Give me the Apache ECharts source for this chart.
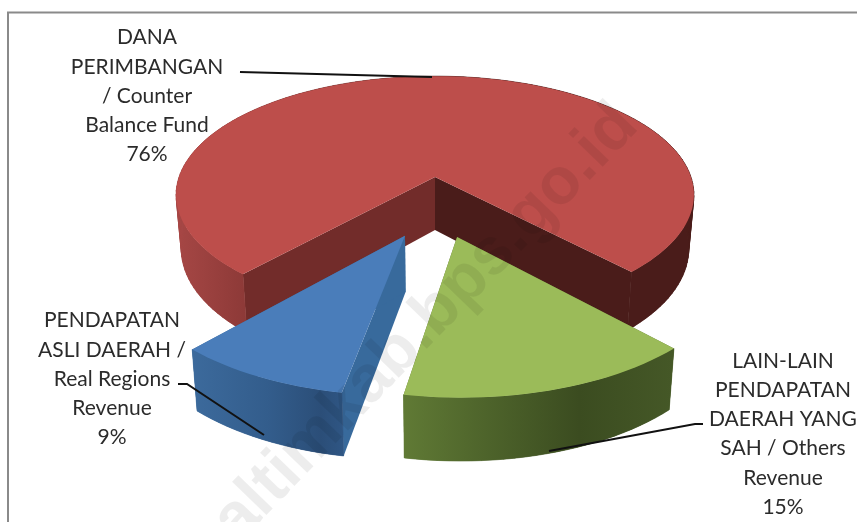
<!DOCTYPE html>
<html>
<head>
<meta charset="utf-8">
<style>
  html, body { margin: 0; padding: 0; background: #fff; }
  #chart { width: 857px; height: 522px; }
</style>
<script src="https://cdn.jsdelivr.net/npm/echarts@6/dist/echarts.min.js"></script>
</head>
<body>
<div id="chart"></div>
<script>
const categories = [
  'DANA\nPERIMBANGAN\n/ Counter\nBalance Fund',
  'LAIN-LAIN\nPENDAPATAN\nDAERAH YANG\nSAH / Others\nRevenue',
  'PENDAPATAN\nASLI DAERAH /\nReal Regions\nRevenue'
]
const shares = [76.4, 14.8, 8.8]
const watermark = 'haltimkab.bps.go.id'

// projection of the pie plane, front of the disc is nearer to the viewer
const CX = 435
const CY = 177
const RX = 256
const RY = 116
const PERSPECTIVE = 0.15
const START_ANGLE = -138.2
const total = shares.reduce((a, b) => a + b, 0)

const sliceStyles = [
  {
    explode: [0, 0],
    top: '#bd4e4b',
    faces: ['#722c2a', '#4a1c1a'],
    outer: [[0, '#a64745'], [0.13, '#8e3a38'], [0.5, '#4a1c1a'], [1, '#4a1c1a']],
    label: [147, 96],
    leader: [[240, 72], [432, 77]]
  },
  {
    explode: [0.08, 0.48],
    top: '#9bbb59',
    faces: ['#5c7532', '#5c7532'],
    outer: [[0, '#607a35'], [0.3, '#4e642b'], [0.65, '#3b4c20'], [1, '#455827']],
    label: [783, 434],
    leader: [[703, 424], [695, 424], [549, 451]]
  },
  {
    explode: [-0.109, 0.47],
    top: '#4a7dba',
    faces: ['#386a9c', '#386a9c'],
    outer: [[0, '#3c6a9c'], [0.5, '#335d8c'], [0.85, '#2b4e78'], [1, '#2f5684']],
    label: [112, 379],
    leader: [[178, 384], [187, 384], [264, 435]]
  }
]

function project(u, v) {
  const s = 1 / (1 - PERSPECTIVE * v)
  return [CX + RX * u * s, CY + RY * v * s]
}

// same point on the underside of the slab
function lower(u, v) {
  const p = project(u, v)
  return [CX + (p[0] - CX) * 0.98, p[1] + 53 + 7 * v]
}

function arcPoints(from, to, off, fn) {
  const pts = []
  const steps = Math.max(2, Math.ceil(Math.abs(to - from) / 2))
  for (let i = 0; i <= steps; i++) {
    const a = (from + (to - from) * i / steps) * Math.PI / 180
    pts.push(fn(Math.sin(a) + off[0], -Math.cos(a) + off[1]))
  }
  return pts
}

function colorAt(stops, t) {
  for (let i = 1; i < stops.length; i++) {
    if (t <= stops[i][0]) {
      const k = (t - stops[i - 1][0]) / (stops[i][0] - stops[i - 1][0])
      return echarts.color.lerp(k, [stops[i - 1][1], stops[i][1]])
    }
  }
  return stops[stops.length - 1][1]
}

function renderSlice(params, api) {
  const idx = params.dataIndex
  const st = sliceStyles[idx]
  let from = START_ANGLE
  for (let i = 0; i < idx; i++) from += shares[i] / total * 360
  const to = from + api.value(0) / total * 360
  const off = st.explode

  const topArc = arcPoints(from, to, off, project)
  const lowArc = arcPoints(from, to, off, lower)
  const tip = project(off[0], off[1])
  const lowTip = lower(off[0], off[1])
  const poly = (points, fill) => ({
    type: 'polygon',
    shape: { points },
    style: { fill, stroke: null }
  })

  const children = [
    poly([tip, topArc[0], lowArc[0], lowTip], st.faces[0]),
    poly([tip, topArc[topArc.length - 1], lowArc[lowArc.length - 1], lowTip], st.faces[1])
  ]

  // quads keep the silhouette tangent to the top face, the gradient wall hides their seams
  const xs = topArc.map((p) => p[0])
  const minX = Math.min.apply(null, xs)
  const maxX = Math.max.apply(null, xs)
  for (let i = 0; i < topArc.length - 1; i++) {
    const t = (topArc[i][0] - minX) / (maxX - minX)
    const fill = colorAt(st.outer, t)
    const quad = poly([topArc[i], topArc[i + 1], lowArc[i + 1], lowArc[i]], fill)
    quad.style.stroke = fill
    quad.style.lineWidth = 0.6
    children.push(quad)
  }
  children.push(poly(
    topArc.concat(lowArc.slice().reverse()),
    new echarts.graphic.LinearGradient(0, 0, 1, 0,
      st.outer.map((s) => ({ offset: s[0], color: s[1] })))
  ))

  children.push(
    poly([tip].concat(topArc), st.top),
    {
      type: 'polyline',
      shape: { points: st.leader },
      style: { stroke: '#111', lineWidth: 2, fill: null }
    },
    {
      type: 'text',
      style: {
        text: categories[idx] + '\n' + Math.round(api.value(0)) + '%',
        x: st.label[0],
        y: st.label[1],
        align: 'center',
        verticalAlign: 'middle',
        fontFamily: 'Lato',
        fontSize: 21,
        lineHeight: 29.2,
        fill: '#2b2b2b'
      }
    }
  )
  return { type: 'group', children }
}

const chart = echarts.init(document.getElementById('chart'))
chart.setOption({
  animation: false,
  backgroundColor: '#fff',
  graphic: [
    {
      type: 'polyline',
      z: 0,
      shape: { points: [[8, 522], [8, 12.5], [857, 12.5]] },
      style: { stroke: '#8a8a8a', lineWidth: 2, fill: null }
    },
    {
      type: 'text',
      z: 10,
      x: 412,
      y: 338,
      rotation: 46 * Math.PI / 180,
      style: {
        text: watermark,
        align: 'center',
        verticalAlign: 'middle',
        fontFamily: 'Liberation Sans',
        fontWeight: 'bold',
        fontSize: 66,
        fill: 'rgba(0,0,0,0.07)'
      }
    }
  ],
  series: [
    {
      type: 'custom',
      coordinateSystem: 'none',
      renderItem: renderSlice,
      silent: true,
      data: shares.map((v) => [v]),
      z: 2
    }
  ]
})
</script>
</body>
</html>
